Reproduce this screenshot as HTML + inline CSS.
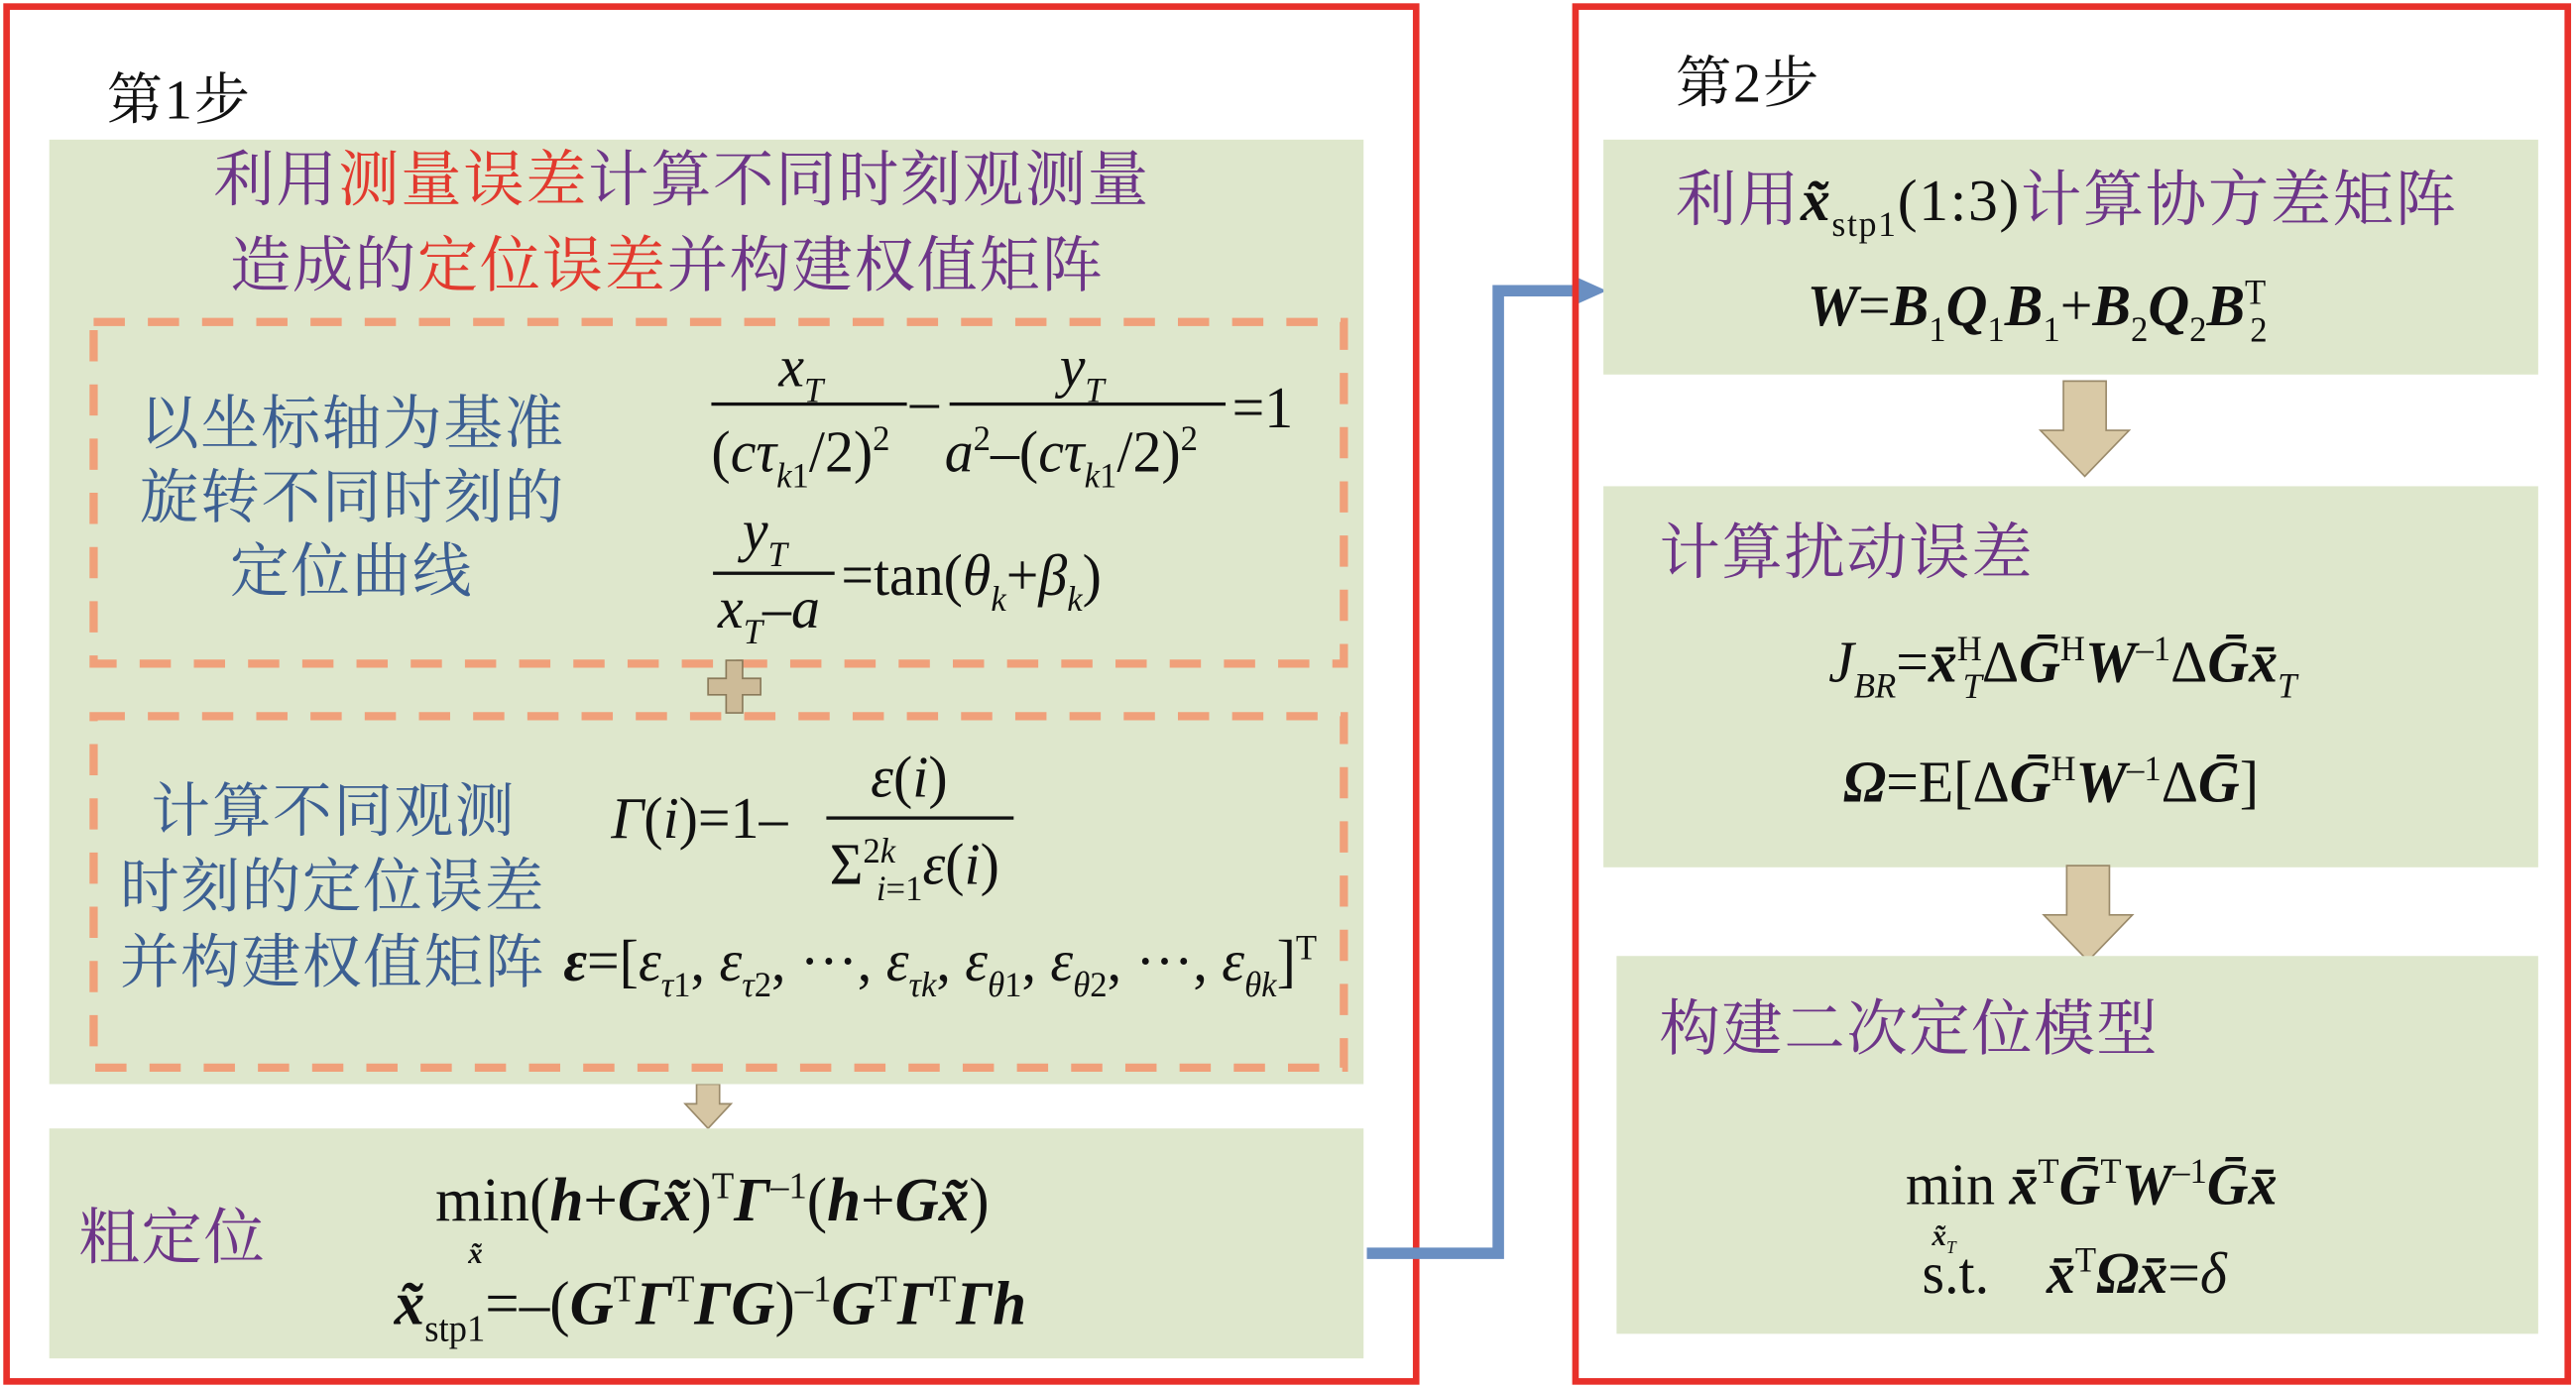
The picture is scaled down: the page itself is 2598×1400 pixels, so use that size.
<!DOCTYPE html>
<html><head><meta charset="utf-8"><style>
html,body{margin:0;padding:0;background:#fff;width:2598px;height:1400px;overflow:hidden}
#w{position:absolute;left:0;top:0;width:1568px;height:845px;transform:scale(1.65689,1.65680);transform-origin:0 0}
.a{position:absolute;white-space:nowrap}
.red{border:4px solid #e8302a;position:absolute;box-sizing:border-box}
.g{position:absolute;background:#dee7cc}
.cj{font-family:"Liberation Serif","Noto Serif CJK SC","Noto Sans CJK SC",serif;font-size:36px;line-height:36px;letter-spacing:1px}
.pu{color:#6d3588}.bl{color:#3c5f92}.rd{color:#e23a2e}
.f{font-family:"Liberation Serif",serif;font-size:36px;line-height:36px;color:#111;transform:scaleX(.97);transform-origin:0 0}
.f i{font-style:italic}.f b{font-weight:bold;font-style:italic}
sub{font-size:60%;vertical-align:-0.45em;line-height:0}
sup{font-size:60%;vertical-align:0.6em;line-height:0}
.ln{position:absolute;height:2px;background:#111}
</style></head><body><div id="w">
<!-- left -->
<div class="red" style="left:2px;top:2px;width:862px;height:841px"></div>
<div class="a cj" style="left:65px;top:44px;color:#111;font-size:34px">第1步</div>
<div class="g" style="left:30px;top:85px;width:800px;height:575px"></div>
<div class="a cj pu" style="left:130px;top:93px;font-size:37px">利用<span class="rd">测量误差</span>计算不同时刻观测量</div>
<div class="a cj pu" style="left:140px;top:145px;font-size:37px">造成的<span class="rd">定位误差</span>并构建权值矩阵</div>
<svg class="a" style="left:0;top:0" width="870" height="845"><g fill="none" stroke="#f0a07a" stroke-width="5" stroke-dasharray="19 14"><rect x="57" y="196" width="761" height="208"/><rect x="57" y="436" width="761" height="214"/></g></svg>
<div class="a cj bl" style="left:85px;top:240px">以坐标轴为基准</div>
<div class="a cj bl" style="left:85px;top:285px">旋转不同时刻的</div>
<div class="a cj bl" style="left:140px;top:330px">定位曲线</div>
<div class="a f" style="left:474px;top:205px"><i>x</i><sub><i>T</i></sub></div>
<div class="ln" style="left:433px;top:245px;width:119px"></div>
<div class="a f" style="left:433px;top:257px">(<i>cτ</i><sub><i>k</i>1</sub>/2)<sup>2</sup></div>
<div class="a f" style="left:554px;top:226px">–</div>
<div class="ln" style="left:578px;top:245px;width:168px"></div>
<div class="a f" style="left:645px;top:205px"><i>y</i><sub><i>T</i></sub></div>
<div class="a f" style="left:575px;top:257px"><i>a</i><sup>2</sup>–(<i>cτ</i><sub><i>k</i>1</sub>/2)<sup>2</sup></div>
<div class="a f" style="left:750px;top:230px">=1</div>
<div class="a f" style="left:452px;top:305px"><i>y</i><sub><i>T</i></sub></div>
<div class="ln" style="left:434px;top:348px;width:74px"></div>
<div class="a f" style="left:437px;top:352px"><i>x</i><sub><i>T</i></sub>–<i>a</i></div>
<div class="a f" style="left:512px;top:332px">=tan(<i>θ</i><sub><i>k</i></sub>+<i>β</i><sub><i>k</i></sub>)</div>
<svg class="a" style="left:430px;top:400px" width="36" height="36"><path d="M12 2h10v11h11v10H22v11H12V23H1V13h11z" fill="#cdbb98" stroke="#8a7a5a" stroke-width="1"/></svg>
<div class="a cj bl" style="left:92px;top:476px">计算不同观测</div>
<div class="a cj bl" style="left:73px;top:522px">时刻的定位误差</div>
<div class="a cj bl" style="left:73px;top:568px">并构建权值矩阵</div>
<div class="a f" style="left:372px;top:480px"><i>Γ</i>(<i>i</i>)=1–</div>
<div class="ln" style="left:503px;top:497px;width:114px"></div>
<div class="a f" style="left:530px;top:455px"><i>ε</i>(<i>i</i>)</div>
<div class="a f" style="left:505px;top:508px">Σ<sup>2<i>k</i></sup><sub style="margin-left:-12px"><i>i</i>=1</sub><i>ε</i>(<i>i</i>)</div>
<div class="a f" style="left:343px;top:567px"><b>ε</b>=[<i>ε</i><sub><i>τ</i>1</sub>, <i>ε</i><sub><i>τ</i>2</sub>, ···, <i>ε</i><sub><i>τk</i></sub>, <i>ε</i><sub><i>θ</i>1</sub>, <i>ε</i><sub><i>θ</i>2</sub>, ···, <i>ε</i><sub><i>θk</i></sub>]<sup>T</sup></div>
<svg class="a" style="left:416px;top:660px" width="30" height="28"><path d="M8 0h14v12h7L15 27 1 12h7z" fill="#d6c6a4" stroke="#9a8a6a"/></svg>
<div class="g" style="left:30px;top:687px;width:800px;height:140px"></div>
<div class="a cj pu" style="left:48px;top:737px;font-size:37px">粗定位</div>
<div class="a f" style="left:265px;top:713px;font-size:38px">min(<b>h</b>+<b>G</b><b>x̃</b>)<sup>T</sup><b>Γ</b><sup>–1</sup>(<b>h</b>+<b>G</b><b>x̃</b>)</div>
<div class="a f" style="left:285px;top:745px;font-size:18px"><b>x̃</b></div>
<div class="a f" style="left:240px;top:776px;font-size:38px"><b>x̃</b><sub>stp1</sub>=–(<b>G</b><sup>T</sup><b>Γ</b><sup>T</sup><b>ΓG</b>)<sup>–1</sup><b>G</b><sup>T</sup><b>Γ</b><sup>T</sup><b>Γh</b></div>
<!-- connector -->
<svg class="a" style="left:0;top:0" width="1568" height="845"><path d="M832 763H912V177H960" fill="none" stroke="#6a8fc2" stroke-width="7"/><path d="M958 168L978 177L958 186z" fill="#6a8fc2"/></svg>
<!-- right -->
<div class="red" style="left:957px;top:2px;width:608px;height:841px"></div>
<div class="a cj" style="left:1020px;top:34px;color:#111;font-size:34px">第2步</div>
<div class="g" style="left:976px;top:85px;width:569px;height:143px"></div>
<div class="a cj pu" style="left:1020px;top:104px;font-size:37px">利用<span class="f" style="display:inline-block;color:#111;transform:none"><b>x̃</b><sub style="font-style:normal">stp1</sub>(1:3)</span>计算协方差矩阵</div>
<div class="a f" style="left:1100px;top:168px"><b>W</b>=<b>B</b><sub>1</sub><b>Q</b><sub>1</sub><b>B</b><sub>1</sub>+<b>B</b><sub>2</sub><b>Q</b><sub>2</sub><b>B</b><sup>T</sup><sub style="margin-left:-10px">2</sub></div>
<svg class="a" style="left:1240px;top:230px" width="58" height="62"><path d="M16 2h26v30h14L29 60 2 32h14z" fill="#d9c9a6" stroke="#9a8a6a"/></svg>
<div class="g" style="left:976px;top:296px;width:569px;height:232px"></div>
<div class="a cj pu" style="left:1010px;top:320px;font-size:37px">计算扰动误差</div>
<div class="a f" style="left:1113px;top:385px"><i>J</i><sub><i>BR</i></sub>=<b>x̄</b><sup>H</sup><sub style="margin-left:-12px"><i>T</i></sub>Δ<b>Ḡ</b><sup>H</sup><b>W</b><sup>–1</sup>Δ<b>Ḡ</b><b>x̄</b><sub><i>T</i></sub></div>
<div class="a f" style="left:1122px;top:458px"><b>Ω</b>=E[Δ<b>Ḡ</b><sup>H</sup><b>W</b><sup>–1</sup>Δ<b>Ḡ</b>]</div>
<svg class="a" style="left:1242px;top:525px" width="58" height="62"><path d="M16 2h26v30h14L29 60 2 32h14z" fill="#d9c9a6" stroke="#9a8a6a"/></svg>
<div class="g" style="left:984px;top:582px;width:561px;height:230px"></div>
<div class="a cj pu" style="left:1010px;top:610px;font-size:37px">构建二次定位模型</div>
<div class="a f" style="left:1160px;top:703px">min <b>x̄</b><sup>T</sup><b>Ḡ</b><sup>T</sup><b>W</b><sup>–1</sup><b>Ḡx̄</b></div>
<div class="a f" style="left:1176px;top:734px;font-size:18px"><b>x̃</b><sub><i>T</i></sub></div>
<div class="a f" style="left:1170px;top:757px">s.t. &nbsp;&nbsp; <b>x̄</b><sup>T</sup><b>Ωx̄</b>=<i>δ</i></div>
</div></body></html>
